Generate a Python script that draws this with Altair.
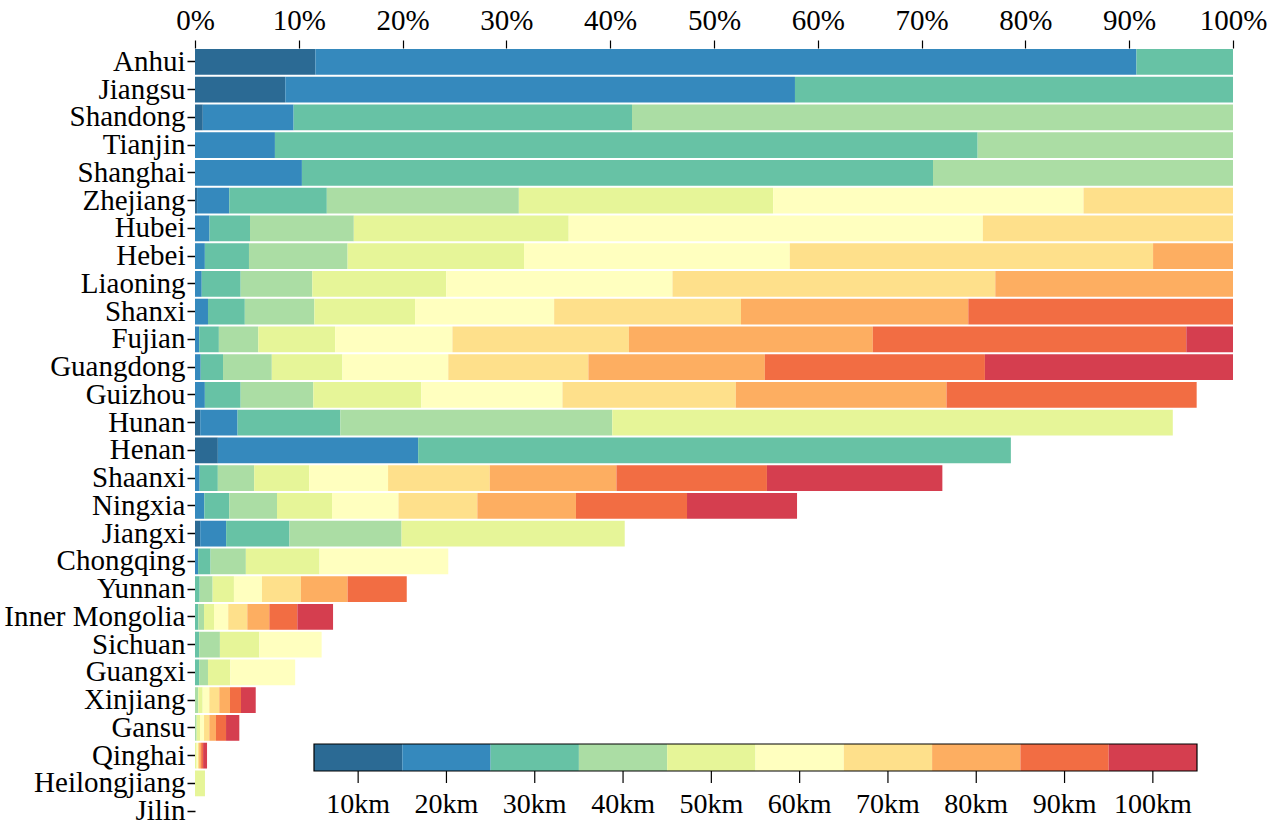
import altair as alt
import pandas as pd

provinces = ["Anhui", "Jiangsu", "Shandong", "Tianjin", "Shanghai", "Zhejiang", "Hubei",
             "Hebei", "Liaoning", "Shanxi", "Fujian", "Guangdong", "Guizhou", "Hunan",
             "Henan", "Shaanxi", "Ningxia", "Jiangxi", "Chongqing", "Yunnan",
             "Inner Mongolia", "Sichuan", "Guangxi", "Xinjiang", "Gansu", "Qinghai",
             "Heilongjiang", "Jilin"]

dist_labels = ["10km", "20km", "30km", "40km", "50km", "60km", "70km", "80km", "90km", "100km"]
dist_colors = ["#2b6a94", "#3589bd", "#67c2a5", "#abdda4", "#e6f598", "#ffffbf",
               "#fee08b", "#fdae61", "#f26d43", "#d53e4f"]

# share (%) of each distance band, in province order
km10 = [11.6, 8.7, 0.75, 0, 0, 0.2, 0, 0, 0, 0, 0, 0, 0, 0.5, 2.2, 0, 0, 0.5, 0, 0, 0, 0, 0, 0, 0, 0, 0, 0]
km20 = [79.1, 49.1, 8.75, 7.7, 10.3, 3.1, 1.4, 0.95, 0.65, 1.25, 0.4, 0.55, 0.95, 3.6, 19.3, 0.45, 0.9, 2.5, 0.3, 0, 0, 0, 0, 0, 0, 0, 0, 0]
km30 = [9.3, 42.2, 32.6, 67.7, 60.8, 9.4, 3.9, 4.25, 3.75, 3.55, 1.9, 2.15, 3.45, 9.9, 57.1, 1.75, 2.4, 6.1, 1.2, 0.45, 0.32, 0.4, 0.4, 0, 0, 0, 0, 0]
km40 = [0, 0, 57.9, 24.6, 28.9, 18.5, 10.0, 9.5, 6.9, 6.7, 3.8, 4.7, 7.0, 26.2, 0, 3.5, 4.6, 10.8, 3.4, 1.25, 0.55, 2.0, 0.85, 0.32, 0.16, 0, 0, 0]
km50 = [0, 0, 0, 0, 0, 24.5, 20.7, 17.0, 12.9, 9.7, 7.4, 6.8, 10.4, 54.0, 0, 5.3, 5.3, 21.5, 7.1, 2.05, 0.96, 3.8, 2.15, 0.42, 0.32, 0.16, 0.96, 0]
km60 = [0, 0, 0, 0, 0, 29.9, 39.9, 25.6, 21.8, 13.4, 11.3, 10.2, 13.6, 0, 0, 7.6, 6.4, 0, 12.4, 2.7, 1.37, 6.0, 6.25, 0.64, 0.39, 0.12, 0, 0]
km70 = [0, 0, 0, 0, 0, 14.4, 24.1, 35.0, 31.1, 18.0, 17.0, 13.5, 16.7, 0, 0, 9.8, 7.6, 0, 0, 3.75, 1.84, 0, 0, 0.96, 0.51, 0.12, 0, 0]
km80 = [0, 0, 0, 0, 0, 0, 0, 7.7, 22.9, 21.9, 23.5, 17.0, 20.3, 0, 0, 12.2, 9.5, 0, 0, 4.5, 2.12, 0, 0, 1.03, 0.64, 0.19, 0, 0]
km90 = [0, 0, 0, 0, 0, 0, 0, 0, 0, 25.5, 30.2, 21.2, 24.1, 0, 0, 14.5, 10.7, 0, 0, 5.7, 2.7, 0, 0, 1.06, 0.97, 0.19, 0, 0]
km100 = [0, 0, 0, 0, 0, 0, 0, 0, 0, 0, 4.5, 23.9, 0, 0, 0, 16.9, 10.6, 0, 0, 0, 3.44, 0, 0, 1.42, 1.28, 0.38, 0, 0]

series = [km10, km20, km30, km40, km50, km60, km70, km80, km90, km100]

rows = []
for k, (lab, vals) in enumerate(zip(dist_labels, series)):
    for p, v in zip(provinces, vals):
        rows.append({"province": p, "dist": lab, "idx": k, "share": v / 100.0})
df = pd.DataFrame(rows)

leg = pd.DataFrame({"dist": dist_labels,
                    "i0": list(range(len(dist_labels))),
                    "i1": [i + 1 for i in range(len(dist_labels))],
                    "ic": [i + 0.5 for i in range(len(dist_labels))]})
frame = pd.DataFrame({"a": [0], "b": [len(dist_labels)]})

FONT = "Liberation Serif"
color_scale = alt.Scale(domain=dist_labels, range=dist_colors)

bars = alt.Chart(df).mark_bar(opacity=1).encode(
    x=alt.X("share:Q", stack="zero",
            scale=alt.Scale(domain=[0, 1], nice=False),
            axis=alt.Axis(orient="top", format=".0%", values=[i / 10 for i in range(11)],
                          grid=False, domain=False, tickSize=8, tickColor="black",
                          tickWidth=1.2, labelFlush=False, labelOverlap=False,
                          labelFont=FONT, labelFontSize=29, labelColor="black",
                          labelPadding=5, title=None)),
    y=alt.Y("province:N", sort=provinces,
            scale=alt.Scale(paddingInner=0.07, paddingOuter=0.035),
            axis=alt.Axis(domain=False, tickSize=8, tickColor="black", tickWidth=1.5,
                          labelFont=FONT, labelFontSize=29, labelColor="black",
                          labelLimit=400, labelPadding=2, title=None)),
    color=alt.Color("dist:N", scale=color_scale, legend=None),
    order=alt.Order("idx:Q"),
)

lx = alt.Scale(domain=[0, len(dist_labels)], range=[119, 1002], nice=False, zero=False)

leg_rect = alt.Chart(leg).mark_rect().encode(
    x=alt.X("i0:Q", scale=lx, axis=None),
    x2="i1:Q",
    y=alt.value(696),
    y2=alt.value(723),
    color=alt.Color("dist:N", scale=color_scale, legend=None),
)

leg_frame = alt.Chart(frame).mark_rect(fill=None, stroke="black", strokeWidth=1.2).encode(
    x=alt.X("a:Q", scale=lx, axis=None),
    x2="b:Q",
    y=alt.value(696),
    y2=alt.value(723),
)

leg_ticks = alt.Chart(leg).mark_rule(color="black", strokeWidth=1.2).encode(
    x=alt.X("ic:Q", scale=lx, axis=None),
    y=alt.value(723),
    y2=alt.value(735),
)

leg_text = alt.Chart(leg).mark_text(font=FONT, fontSize=28, color="black",
                                    baseline="middle", align="center").encode(
    x=alt.X("ic:Q", scale=lx, axis=None),
    y=alt.value(757),
    text="dist:N",
)

chart = alt.layer(bars, leg_rect, leg_frame, leg_ticks, leg_text).resolve_scale(
    x="independent"
).properties(
    width=1038, height=777,
    padding={"left": 195, "top": 48, "right": 36, "bottom": 15},
    autosize=alt.AutoSizeParams(type="none"),
    background="white",
).configure_view(stroke=None)

chart.save("out.html", embed_options={"renderer": "svg", "actions": False})
